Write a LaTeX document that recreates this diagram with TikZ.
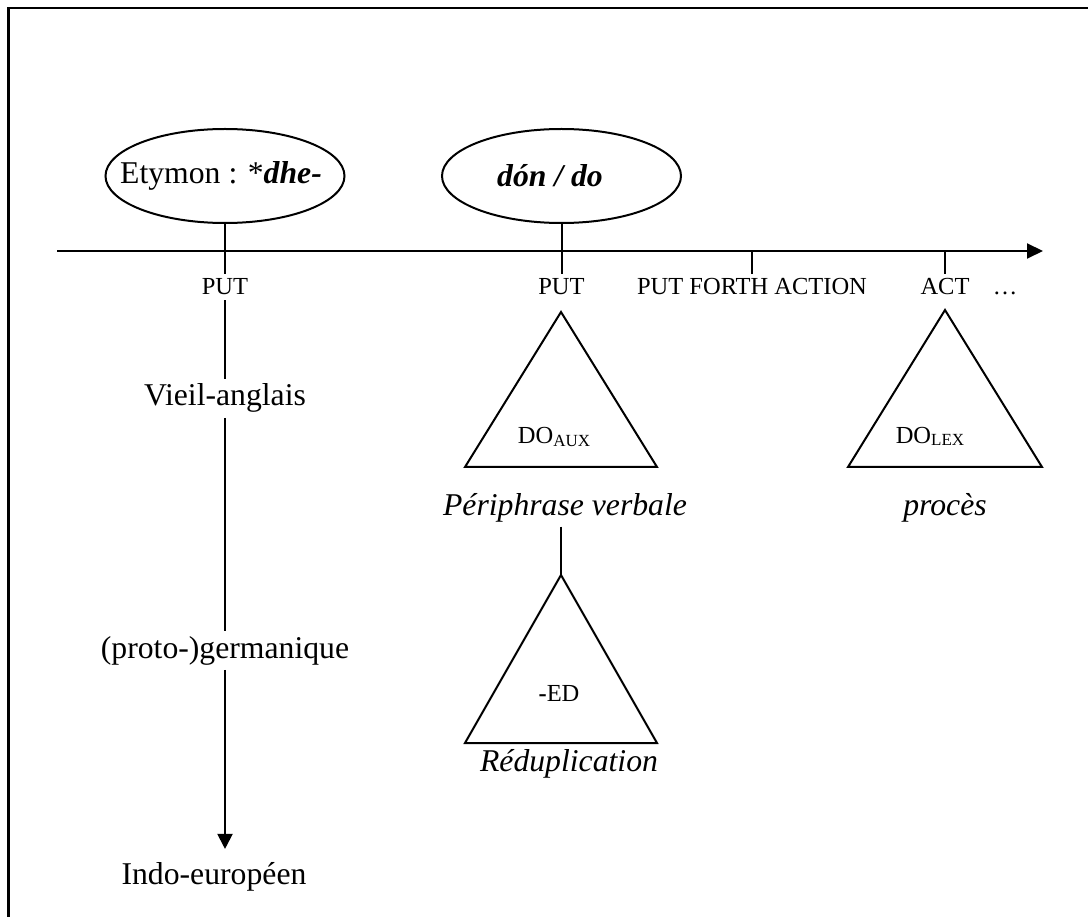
\documentclass[tikz,border=0pt]{standalone}
\usepackage{fontspec}
\setmainfont{Liberation Serif}
\usetikzlibrary{shapes.geometric,arrows.meta}

\newcommand{\lowcaps}[1]{\raisebox{-2.5pt}{\fontsize{17}{17}\selectfont #1}}

\begin{document}
\begin{tikzpicture}[x=1pt, y=-1pt, line width=2pt,
    big/.style={font=\fontsize{31.7}{38}\selectfont, inner sep=4pt},
    small/.style={font=\fontsize{24.5}{29}\selectfont, inner sep=4pt},
    bubble/.style={ellipse, draw, minimum width=239, minimum height=94, inner sep=0pt}]

        \useasboundingbox (0,0) rectangle (1088,917);
        \draw[line width=2.5pt] (8.5,917) -- (8.5,8) -- (1088,8);

        \coordinate (t0) at (57,251);
        \coordinate (t1) at (1043,251);
        \draw [-{Triangle[length=16pt,width=15pt]}] (t0) -- (t1);

        \node (e1) at (225,176) [bubble] {};
        \node (e2) at (561.5,176) [bubble] {};
        \node (etym) at (221,176) [big] {Etymon : *\textbf{\textit{dhe-}}};
        \node (don) at (550,176) [big] {\textbf{\textit{dón / do}}};

        \node (put1) at (225,295) [small, anchor=base] {PUT};
        \node (put2) at (561.5,295) [small, anchor=base] {PUT};
        \node (pfa) at (752,295) [small, anchor=base] {PUT FORTH ACTION};
        \node (act) at (945,295) [small, anchor=base] {ACT};
        \node (dots) at (1005,295) [small, anchor=base] {…};

        \draw (e1) -- (put1);
        \draw (e2) -- (put2);
        \draw (pfa.north) -- (pfa.north |- t0);
        \draw (act.north) -- (act.north |- t0);

        \node (vieil) at (225,406) [big, anchor=base] {Vieil-anglais};
        \node (germ) at (225,658) [big, anchor=base] {(proto-)germanique};
        \node (indo) at (214,884) [big, anchor=base] {Indo-européen};

        \draw (put1) -- (vieil);
        \draw (vieil) -- (germ);
        \draw [-{Triangle[length=15pt,width=15pt]}, shorten >=8pt] (germ) -- (germ |- indo.north);

        \coordinate (a1) at (561,312);
        \coordinate (a2) at (561,575);
        \coordinate (a3) at (945,310);

        \draw (a1) -- ++(-96,155) -- ++(192,0) -- cycle;
        \draw (a2) -- ++(-96,168) -- ++(192,0) -- cycle;
        \draw (a3) -- ++(-97,157) -- ++(194,0) -- cycle;

        \node (doaux) at (554,444) [small, anchor=base] {DO\lowcaps{AUX}};
        \node (dolex) at (930,443) [small, anchor=base] {DO\lowcaps{LEX}};
        \node (ed) at (559,701) [small, anchor=base] {\textbf{-}ED};

        \node (periph) at (565,515) [big, anchor=base] {\textit{Périphrase verbale}};
        \node (proces) at (945,515) [big, anchor=base] {\textit{procès}};
        \node (redup) at (569,771) [big, anchor=base] {\textit{Réduplication}};

        \draw (periph.south -| a2) -- (a2);

    \end{tikzpicture}
\end{document}
